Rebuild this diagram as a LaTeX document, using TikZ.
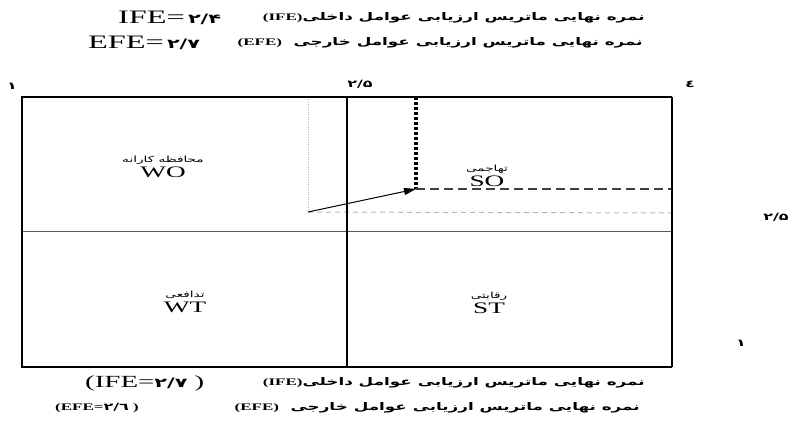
\documentclass[tikz,border=0pt]{standalone}
\usepackage{fontspec}
\setmainfont{Liberation Serif}[FakeStretch=1.7]
\newfontfamily\farsi[Script=Arabic,FakeStretch=1.6]{DejaVu Sans}
\TeXXeTstate=1
\usetikzlibrary{arrows.meta}
\tikzset{
  title_fa/.style = {inner sep=0pt, font=\farsi\bfseries\fontsize{10.5}{12}\selectfont},
  score/.style = {inner sep=0pt, font=\fontsize{19}{20}\selectfont},
  quadnode/.style = {align=center, inner sep=0pt, font=\fontsize{16}{15}\selectfont},
  tick_fa/.style = {inner sep=0pt, font=\farsi\bfseries\fontsize{10}{12}\selectfont},
  old_pos/.style = {draw=gray!60, line width=0.8pt, dash pattern=on 1pt off 1.5pt},
  new_pos/.style = {draw=black, line width=3.5pt, dash pattern=on 3pt off 2pt}
}
\newcommand{\fadig}[1]{{\farsi\bfseries\fontsize{13}{14}\selectfont #1}}
\newcommand{\faq}[1]{{\farsi\fontsize{8.5}{9}\selectfont\beginR #1\endR}}
\newcommand{\latin}[1]{\beginL{\rmfamily\bfseries\fontsize{10}{12}\selectfont #1}\endL}

\begin{document}
\begin{tikzpicture}[x=1pt, y=-1pt]
  \useasboundingbox (0,0) rectangle (797,430);
  \coordinate (nw) at (22,97);
  \coordinate (ne) at (672,97);
  \coordinate (sw) at (22,367);
  \coordinate (se) at (672,367);
  \coordinate (mt) at (347,97);
  \coordinate (mb) at (347,367);
  \coordinate (ml) at (22,232);
  \coordinate (mr) at (672,232);
  \coordinate (old) at (308,212);
  \coordinate (oldtop) at (308,97);
  \coordinate (oldend) at (672,213);
  \coordinate (cur) at (416,189);
  \coordinate (curtop) at (416,97);
  \coordinate (curend) at (672,189);

  % scores
  \node [score, anchor=west] (ife1) at (118,18) {IFE=\,\fadig{۲/۴}};
  \node [title_fa, anchor=east] (ifet1) at (645,18) {\beginR نمره نهایی ماتریس ارزیابی عوامل داخلی\latin{(IFE)}\endR};
  \node [score, anchor=west] (efe1) at (88,43) {EFE=\,\fadig{۲/۷}};
  \node [title_fa, anchor=east] (efet1) at (643,43) {\beginR نمره نهایی ماتریس ارزیابی عوامل خارجی \ \latin{(EFE)}\endR};

  \node [tick_fa] (x1) at (12,86) {۱};
  \node [tick_fa] (x2) at (360,84) {۲/۵};
  \node [tick_fa] (x4) at (690,84) {٤};
  \node [tick_fa] (y2) at (776,217) {۲/۵};
  \node [tick_fa] (y1) at (741,343) {۱};

  \draw [old_pos] (oldtop) -- (old);
  \draw [draw=gray!55, line width=1pt, dash pattern=on 5pt off 4pt] (old) -- (oldend);
  \draw [new_pos] (curtop) -- (cur);
  \draw [draw=black!75, line width=1.5pt, dash pattern=on 9pt off 5pt] (cur) -- (curend);
  \draw [line width=1pt, -{Triangle[length=12pt, width=7pt]}] (old) -- (cur);

  \draw [gray!70!black, line width=1pt] (ml) -- (mr);
  \draw [line width=1.5pt] (mt) -- (mb);
  \draw [line width=1.3pt] (ne) -- (nw) -- (sw) -- (se);
  \draw [line width=2.5pt] (ne) -- (se);

  \node [quadnode] (wo) at (163,167) {\faq{محافظه کارانه}\\WO};
  \node [quadnode] (so) at (487,176) {\faq{تهاجمی}\\SO};
  \node [quadnode] (wt) at (185,302) {\faq{تدافعی}\\WT};
  \node [quadnode] (st) at (489,303) {\faq{رقابتی}\\ST};

  \node [score, anchor=west, font=\fontsize{17}{18}\selectfont] (ife2) at (85,383) {(IFE=\fadig{۲/۷} )};
  \node [title_fa, anchor=east] (ifet2) at (645,383) {\beginR نمره نهایی ماتریس ارزیابی عوامل داخلی\latin{(IFE)}\endR};
  \node [score, anchor=west, font=\bfseries\fontsize{10}{12}\selectfont] (efe2) at (55,408) {(EFE=\fadig{\fontsize{10}{12}\selectfont ۲\kern0pt/\kern0pt٦} )};
  \node [title_fa, anchor=east] (efet2) at (640,408) {\beginR نمره نهایی ماتریس ارزیابی عوامل خارجی \ \latin{(EFE)}\endR};
\end{tikzpicture}
\end{document}
